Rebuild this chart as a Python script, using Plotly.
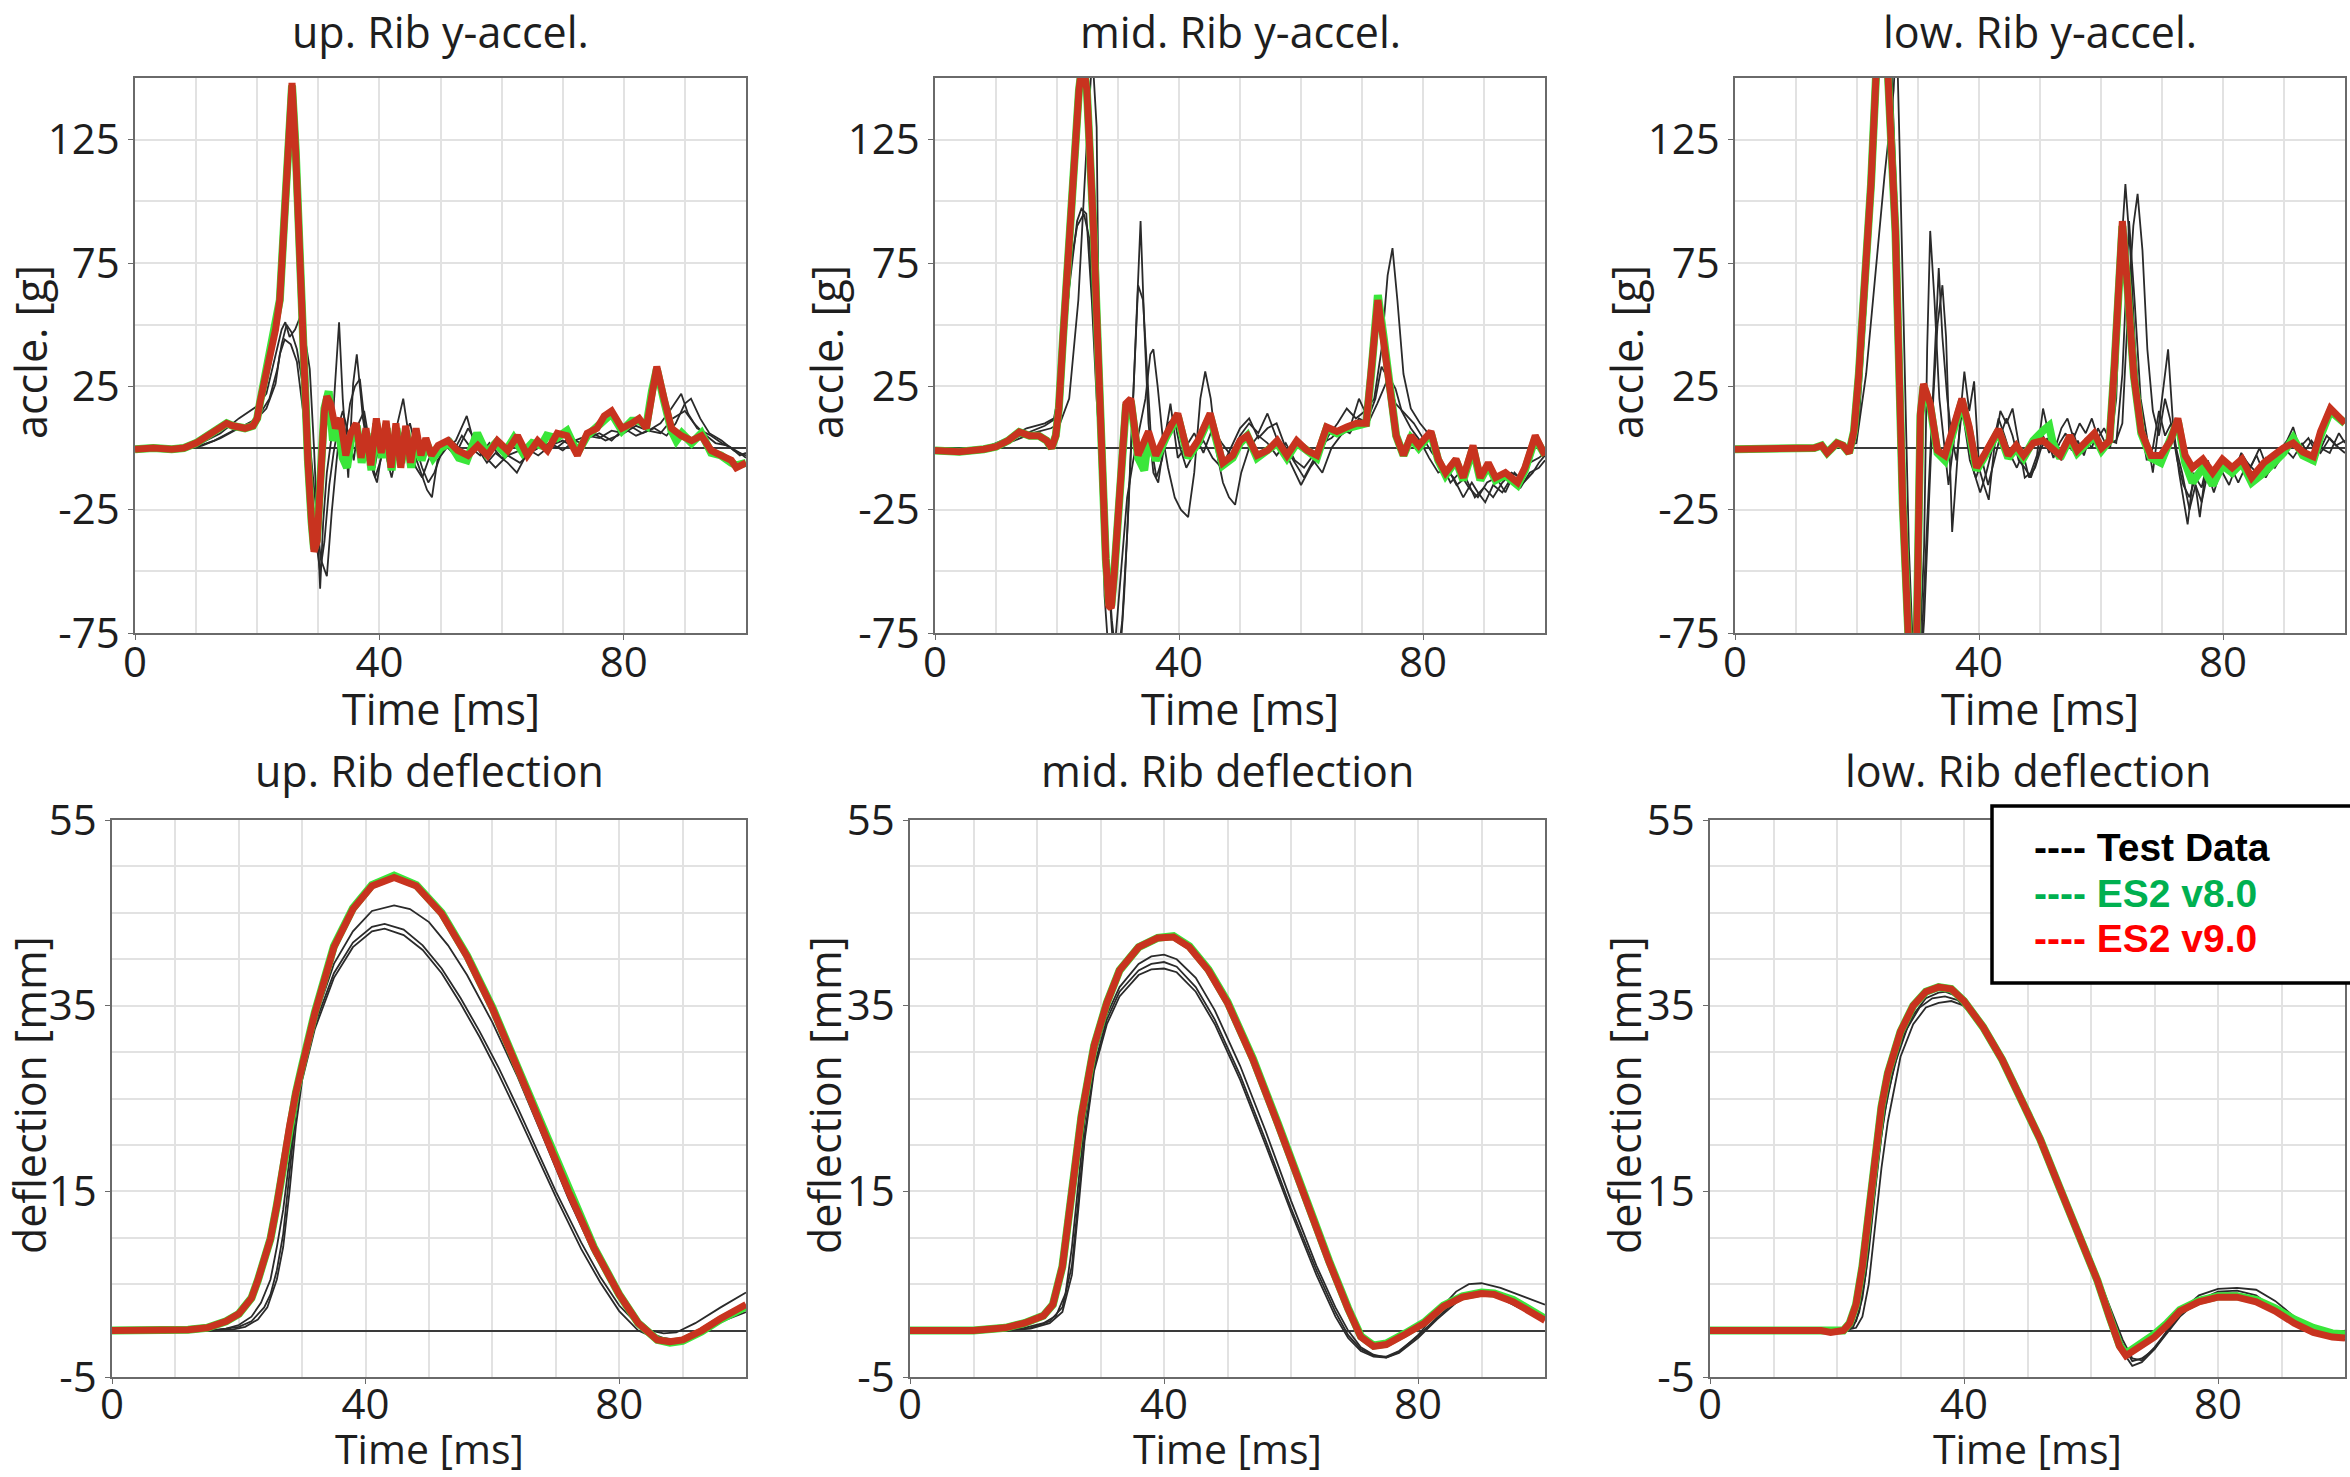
import plotly.graph_objects as go

# ---------------- data (time [ms], value) ----------------
TIME_TICKS = [0, 40, 80]

# ---- upper rib acceleration [g]
UP_V9 = [(0,-0.5),(3,0),(6,-0.5),(8,0),(10,2),(12,5),(14,8),(15,10),(16,9),(17.2,8),(18,8),(19.3,9),(20,12),(20.5,19),(22,37),(23,48),(23.7,60),(24.6,100),(25.2,135),(25.7,148),(26.3,120),(26.9,80),(27.6,35),(28.3,-5),(28.9,-30),(29.3,-42),(29.8,-38),(30.4,-10),(31,15),(31.4,21),(32,18),(32.8,8),(33.6,12),(34.5,-3),(35.3,6),(36.2,10),(37,-4),(37.8,8),(38.6,-7),(39.5,12),(40.3,-2),(41.1,11),(41.9,-8),(42.7,10),(43.5,-8),(44.3,9),(45.1,-6),(46,8),(46.8,-3),(47.6,4),(48.5,-3),(49.6,1),(51.2,3),(52.8,-1),(54.5,-3),(56.1,1),(57.7,-3),(59.3,3),(61,-1),(62.6,5),(64.2,-3),(65.9,3),(67.5,-1),(69.1,6),(70.7,5),(72.4,-3),(74,6),(75.6,8),(76.8,13),(78,15),(79.7,8),(81.3,10),(82.5,12),(83.7,8),(84.6,22),(85.4,33),(86.6,20),(87.8,8),(89.4,5),(91.1,3),(92.7,5),(94.3,-1),(95.9,-3),(97.6,-5),(98.4,-8),(100,-6)]
UP_V8 = [(0,-0.5),(3,0),(6,-0.5),(8,0),(10,2),(12,5),(14,8),(15,10),(16,9),(17.2,8),(18,8),(19.3,9),(20,12),(20.5,19),(22,37),(23,48),(23.7,60),(24.6,100),(25.2,136),(25.7,147),(26.3,121),(26.9,80),(27.6,35),(28.3,-5),(28.9,-30),(29.3,-41),(29.8,-37),(30.4,-10),(31,16),(31.7,23),(32.4,3),(33.2,10),(34,-4),(34.7,-8),(35.5,6),(36.3,9),(37.1,-6),(37.9,6),(38.7,-9),(39.5,10),(40.4,-4),(41.2,8),(42,-9),(42.8,8),(43.6,-6),(44.4,7),(45.2,-8),(46,5),(46.9,-5),(47.7,2),(48.8,-4),(50,0),(51.5,2),(53,-4),(54.3,-5),(56,6),(57.5,-2),(59,2),(60.5,-2),(62,4),(63.5,-2),(65,2),(66.5,1),(67.4,5),(69,4),(70.7,7),(72.4,-2),(74,5),(75.6,9),(76.8,12),(78,14),(79.7,7),(81.3,11),(82.5,11),(83.7,9),(84.6,23),(85.4,32),(86.6,19),(87.8,7),(88.6,3),(89.5,6),(91.1,2),(92.7,6),(94.3,-2),(95.9,-3),(97.6,-6),(98.4,-7),(100,-6)]
UP_T1 = [(0,0),(8,0),(10,1),(14,6),(17,12),(20,17),(21.5,22),(23,38),(24,48),(24.6,51),(25.3,45),(26.2,48),(27,53),(27.8,45),(28.6,32),(29.3,0),(30.3,-57),(30.8,-30),(31.4,-10),(32.2,5),(32.8,30),(33.4,51),(34,20),(34.9,-12),(35.7,26),(36.3,38),(37,20),(37.3,12),(38.2,-2),(39,-10),(39.6,-14),(40.5,0),(41.7,-5),(42.5,5),(43.9,20),(44.8,5),(45.8,-3),(46.8,-10),(47.8,-17),(48.6,-20),(49.5,-5),(51,0),(52.5,3),(54.3,13),(55.5,2),(57.6,-6),(59,-2),(61,-6),(62.5,-10),(64,-3),(66,0),(68,2),(70,-1),(72,3),(74,5),(76,4),(78,7),(80,6),(82,9),(84,7),(86,10),(87.5,15),(89.4,22),(90.5,14),(92,8),(94.3,5),(96,2),(97.6,0),(99,-3),(100,-2)]
UP_T2 = [(0,0),(8,0),(10,0.5),(13,3),(16,7),(19,10),(20.5,14),(22,20),(23.3,32),(24,42),(24.8,50),(25.6,47),(26.5,40),(27.5,25),(28.5,5),(29.5,-20),(30.4,-45),(31.4,-52),(32.2,-26),(33,-5),(33.6,10),(34.5,5),(35.2,18),(36,25),(36.8,28),(37.6,10),(38.4,-5),(39.2,-8),(40,2),(41,-2),(42,-12),(43,0),(44,8),(45,-2),(46,-8),(47,-12),(48,-5),(49,0),(50.5,2),(52,-2),(53.5,5),(55,0),(56.5,-3),(58,2),(60,-4),(62,-2),(64,0),(66,-3),(68,1),(70,3),(72,0),(74,4),(76,6),(78,3),(80,8),(82,5),(84,7),(86,6),(88,12),(90,15),(91.5,10),(93,6),(95,2),(97,1),(99,-2),(100,-4)]
UP_T3 = [(0,0),(9,0),(11,1),(14,4),(17,8),(20,12),(21.5,16),(23,26),(23.7,38),(24.5,44),(25.5,42),(26.5,35),(27.5,15),(28.5,-10),(29.5,-35),(30.3,-50),(31,-38),(31.8,-15),(32.5,-2),(33.2,8),(34,15),(35,5),(35.8,-5),(36.6,10),(37.5,15),(38.5,0),(39.3,-12),(40.2,-5),(41,5),(42,-8),(43,-3),(44,5),(45,10),(46,0),(47,-8),(48,-14),(49,-10),(50,-3),(51.5,4),(53,0),(54.5,8),(56,2),(57.5,-4),(59,-8),(61,-3),(63,-6),(65,-1),(67,2),(69,0),(71,4),(73,2),(75,6),(77,3),(79,5),(81,9),(83,6),(85,8),(87,5),(88.5,10),(90,18),(91,20),(92.5,12),(94,6),(96,3),(98,-1),(100,-3)]

# ---- middle rib acceleration [g]
MID_V9 = [(0,-1),(4,-1.5),(8,-0.5),(10,0.5),(12,3),(13.8,6.5),(15.5,5),(17,5),(18.3,3),(19.1,0),(19.8,5),(20.3,16),(21,45),(22,88),(23,125),(23.6,145),(24.2,158),(24.9,145),(26,88),(27.2,-4),(28,-45),(28.5,-64),(28.9,-65),(29.4,-50),(30.1,-23),(31.3,18),(32.1,20),(33.3,-3),(35,6.7),(36.2,-3),(37.8,5),(39.8,14),(41.5,-3),(43.1,3),(45.1,14),(47.2,-6),(48.8,-3),(50,3),(51.2,5),(52.8,-3),(54.5,-1),(56.1,3),(57.7,-3),(59.3,3),(61,-1),(62.6,-3),(64.2,8.5),(65.9,6.7),(67.5,8.5),(69.1,10),(70.7,10),(71.5,29),(72.6,60),(73.6,42),(74.8,18),(75.6,5),(76.8,-3),(78,5),(79.3,1),(81.3,6.7),(82.5,-4.5),(83.7,-10),(85.4,-4.5),(86.6,-12),(88.2,1),(89.4,-12),(90.7,-6),(91.9,-12),(93.5,-10),(95.5,-14),(96.7,-8),(98.4,5),(100,-3)]
MID_V8 = [(0,-1),(4,-1.5),(8,-0.5),(10,0.5),(12,3),(13.8,6.5),(15.5,5),(17,5),(18.3,3),(19.1,0),(19.8,5),(20.3,16),(21,45),(22,88),(23,125),(23.6,145),(24.2,157),(24.9,145),(26,88),(27.2,-4),(28,-45),(28.5,-63),(28.9,-64),(29.4,-50),(30.1,-23),(31.3,17),(32.1,19),(33.3,-4),(34.3,-9),(35,5),(36.2,-5),(37.8,4),(39.8,13),(41.5,-4),(43.1,2),(45.1,13),(47.2,-7),(48.8,-4),(50,2),(51.2,5),(52.8,-4),(54.5,-1),(56.1,2),(57.7,-4),(59.3,2),(61,-1),(62.6,-4),(64.2,8),(65.9,6),(67.5,8),(69.1,9),(70.7,10),(71.5,30),(72.6,62),(73.6,44),(74.8,19),(75.6,5),(76.8,-3),(78,4),(79.3,0),(81.3,6),(82.5,-5),(83.7,-11),(85.4,-5),(86.6,-13),(88.2,0),(89.4,-13),(90.7,-7),(91.9,-13),(93.5,-11),(95.5,-15),(96.7,-9),(98.4,4),(100,-3)]
MID_T1 = [(0,0),(8,0),(12,4),(15,8),(18,10),(19.5,12),(20.5,25),(22,65),(23.3,92),(24,97),(24.8,95),(25.7,60),(26.5,20),(27.5,-20),(28.5,-60),(29.3,-85),(30.2,-90),(31,-60),(31.8,-20),(32.5,20),(33.2,60),(33.7,92),(34.3,50),(35,10),(35.8,-10),(36.6,-14),(37.4,0),(38.6,18),(39.8,-4),(41,0),(42.5,6),(44,-2),(45.5,8),(47,2),(48.5,-3),(50,5),(51.5,10),(53,6),(54.5,14),(56,4),(57.5,-2),(59,-10),(60,-15),(61.5,-8),(63,-3),(64.5,5),(66,10),(67.5,16),(69,12),(70.5,15),(72,20),(73.2,40),(74.2,70),(75,81),(75.8,60),(76.8,30),(78,16),(79.5,10),(80.5,7),(82,0),(83.5,-8),(85,-12),(86.6,-20),(88,-14),(89,-18),(90.2,-22),(91.5,-15),(93,-18),(94.5,-12),(96,-16),(97.5,-10),(99,-8),(100,-5)]
MID_T2 = [(0,0),(8,0),(12,3),(15,6),(18,9),(19.8,12),(21,35),(22.3,75),(23.3,90),(24.4,95),(25.3,85),(26.2,45),(27,5),(28,-35),(29,-70),(29.8,-88),(30.7,-70),(31.5,-35),(32.3,10),(33.3,66),(34.1,60),(34.8,30),(35.5,0),(36.3,-12),(37.2,-5),(38.2,10),(39.2,12),(40.2,0),(41.2,-8),(42.5,-2),(44,3),(45.5,-4),(47,-8),(48.5,0),(50,8),(51.5,12),(53,4),(54.5,8),(56,10),(57.5,0),(59,-6),(60.5,-12),(62,-5),(63.5,-10),(65,0),(66.5,5),(68,8),(69.5,20),(71,12),(72.2,20),(73.2,33),(74.3,28),(75.5,18),(77,14),(78.5,10),(80,4),(81.5,-2),(83,-6),(84.5,-14),(86,-10),(87.5,-16),(89,-20),(90.5,-14),(92,-12),(93.5,-18),(95,-10),(96.5,-14),(98,-10),(99,-6),(100,-3)]
MID_T3 = [(0,0),(9,0),(13,3),(16,6),(19,8),(20.5,10),(22,20),(23.5,60),(24.8,120),(25.8,160),(26.5,130),(26.8,60),(27.2,0),(27.8,-60),(28.5,-85),(29.5,-80),(30.5,-50),(31.5,-20),(32.5,-5),(33.5,8),(34.5,20),(35.3,38),(35.8,40),(36.5,25),(37.3,5),(38.2,-8),(39.3,-20),(40.3,-25),(41.5,-28),(42.5,-10),(43.5,20),(44.3,31),(45.2,20),(46.2,-2),(47.2,-14),(48.2,-20),(49.2,-23),(50.2,-10),(51.5,0),(53,5),(54.5,2),(56,-3),(57.5,2),(59,-5),(60.5,-8),(62,-3),(63.5,2),(65,4),(66.5,8),(68,6),(69.5,12),(71,10),(72.5,18),(74.4,29),(75.5,24),(76.5,15),(78,8),(79.5,3),(81,-4),(82.5,-10),(84,-8),(85.5,-15),(87,-12),(88.5,-20),(90,-16),(91.5,-20),(93,-14),(94.5,-10),(96,-12),(97.5,-6),(99,-4),(100,-2)]

# ---- lower rib acceleration [g]
LOW_V9 = [(0,-0.5),(5,-0.5),(10,-0.5),(13,0),(14.2,1),(15.1,-2),(16.7,2),(17.7,1),(18.7,-2),(19.5,6.7),(20.3,30),(21.1,60),(22.3,107),(23.1,150),(24,168),(25.1,150),(26.3,88),(27.5,-23),(28.3,-75),(28.9,-105),(29.4,-100),(29.8,-75),(30.4,14),(30.9,26),(32,18),(33.2,-1),(34.4,-3),(36,10),(37.2,20),(38.4,8.5),(39.6,-8),(40.8,-3),(42,3),(43.2,7.6),(44.8,-3),(46.1,1),(47.3,-3),(48.9,2),(50.5,3),(52.1,-1),(53.3,-3),(54.9,5),(56.1,-1),(57.7,3),(58.9,6),(60.1,0),(61.4,3),(62.2,33),(63,70),(63.5,92),(64.2,70),(65.4,29),(66.6,6.7),(68.2,-3),(69.8,-3),(71.4,3),(72.6,12),(73.8,-3),(75,-8),(76.7,-4.5),(78.3,-10),(79.9,-4.5),(81.5,-8),(83.1,-4.5),(84.7,-12),(86.7,-6),(88.3,-3),(89.9,0),(91.5,2),(93.1,-1.6),(94.8,-3.5),(96,6.7),(97.6,16),(99.2,12.4),(100,10)]
LOW_V8 = [(0,-0.5),(5,-0.5),(10,-0.5),(13,0),(14.2,1),(15.1,-2),(16.7,2),(17.7,1),(18.7,-2),(19.5,6.7),(20.3,30),(21.1,60),(22.3,107),(23.1,150),(24,167),(25.1,150),(26.3,88),(27.5,-23),(28.3,-75),(28.9,-104),(29.4,-100),(29.8,-75),(30.4,13),(30.9,25),(32,17),(33.2,-2),(34.4,-5),(36,9),(37.2,19),(38.4,7),(39.6,-9),(40.8,-4),(42,2),(43.2,7),(44.8,-4),(46.1,0),(47.3,-4),(48.9,3),(50.5,7),(51.5,9),(52.1,2),(53.3,-4),(54.9,4),(56.1,-2),(57.7,2),(58.9,5),(60.1,-1),(61.4,3),(62.2,33),(63,70),(63.5,90),(64.2,70),(65.4,29),(66.6,6),(68.2,-4),(69.8,-6),(71.4,4),(72.6,11),(73.8,-6),(75,-14),(76.7,-8),(78.3,-15),(79.9,-7),(81.5,-10),(83.1,-6),(84.7,-14),(86.7,-10),(88.3,-6),(89.9,-2),(91.5,4),(93.1,-3),(94.8,-5),(96,5),(97.6,15),(99.2,12),(100,10)]
LOW_T1 = [(0,0),(10,0),(15,0),(18,0.5),(19.9,2),(21.5,30),(23,70),(24.5,110),(26,145),(26.5,170),(27,120),(27.8,30),(28.5,-40),(29.3,-90),(30.2,-100),(31,-70),(31.8,-20),(32.5,20),(33.2,50),(34,66),(34.6,45),(35.1,0),(35.6,-34),(36.3,-10),(37,15),(37.6,31),(38.4,15),(39.2,27),(40,-8),(40.8,-15),(41.6,-21),(42.5,0),(43.5,15),(44.5,10),(45.5,16),(46.5,2),(47.5,-12),(48.5,-10),(49.5,-3),(50.5,16),(51.5,5),(52.5,0),(53.5,8),(54.5,12),(55.5,4),(56.5,10),(57.5,6),(58.5,12),(59.5,4),(60.5,8),(61.5,3),(62.5,2),(63.5,30),(64.6,92),(65.5,60),(66.5,20),(67.5,5),(68.5,-10),(69.5,10),(70.2,25),(71,40),(71.8,10),(72.8,-10),(74.2,-31),(75.2,-10),(76.2,-28),(77.2,-8),(78.5,-15),(80,-5),(81.5,-12),(83,-2),(84.5,-8),(86,0),(87.5,-10),(89,-2),(90.5,3),(91.5,8.5),(92.5,0),(94,4),(95.5,-3),(97,5),(98.5,1),(100,3)]
LOW_T2 = [(0,0),(12,0),(16,0),(18.5,0.5),(19.8,5),(21,55),(22.3,100),(23.3,150),(24,170),(25.5,160),(26.5,90),(27.3,0),(28,-70),(29,-110),(30,-100),(31,-40),(31.5,40),(32,88),(32.7,60),(33.5,20),(34.3,0),(35,-15),(36,5),(36.8,20),(37.6,10),(38.5,-5),(39.5,-12),(40.5,-5),(41.5,-15),(42.5,-5),(43.5,5),(44.5,12),(45.5,5),(46.5,-5),(47.5,-8),(48.5,-12),(49.5,-5),(50.5,5),(51.5,-2),(52.5,3),(53.5,-5),(54.5,0),(55.5,6),(56.5,-2),(57.5,4),(58.5,0),(59.5,8),(60.5,3),(61.5,0),(62.5,20),(63.3,80),(64,107),(64.8,80),(65.6,40),(66.5,10),(67.5,-5),(68.5,0),(69.5,15),(70.5,5),(71.5,10),(72.5,-5),(73.5,-15),(74.5,-20),(75.5,-12),(76.5,-16),(77.5,-5),(78.5,-12),(79.5,-8),(81,-15),(82.5,-5),(84,-10),(85.5,-3),(87,-12),(88.5,-5),(90,0),(91.5,-4),(93,2),(94.5,-6),(96,0),(97.5,-2),(99,6),(100,2)]
LOW_T3 = [(0,0),(12,0),(16,0),(19,1),(20.3,10),(21.5,60),(22.5,105),(23.5,150),(24.5,165),(25.7,150),(26.8,80),(27.6,-10),(28.4,-80),(29.4,-115),(30.4,-90),(31.2,-45),(32,0),(32.7,40),(33.4,73),(34,45),(34.8,20),(35.5,5),(36.3,-5),(37.2,15),(38.2,5),(39.2,-10),(40.2,-18),(41.2,-10),(42.2,0),(43.2,12),(44.2,5),(45.2,-3),(46.2,-8),(47.2,-2),(48.2,-12),(49.2,-8),(50.2,0),(51.2,4),(52.2,-4),(53.2,2),(54.2,6),(55.2,-1),(56.2,3),(57.2,-3),(58.2,5),(59.2,2),(60.2,-1),(61.2,2),(62.5,3),(63.5,10),(64.5,60),(65.3,90),(66,103),(66.8,80),(67.6,40),(68.5,15),(69.5,5),(70.5,20),(71.3,12),(72.3,0),(73.3,-10),(74.5,-25),(75.5,-15),(76.5,-22),(77.5,-10),(78.5,-18),(79.5,-10),(81,-6),(82.5,-14),(84,-6),(85.5,-10),(87,-4),(88.5,-8),(90,-2),(91.5,2),(93,-3),(94.5,3),(96,-2),(97.5,4),(99,0),(100,-2)]

# ---- upper rib deflection [mm]
UP_DEF_V9 = [(0,0),(5,0),(10,0),(12,0.1),(15,0.3),(18,1),(20,1.8),(22,3.5),(23,5.4),(24,7.5),(25,9.9),(26,13.5),(27,18),(28,22),(29,25.6),(30,28.5),(32,34.2),(35,41.3),(38,45.4),(41,47.9),(44.5,48.8),(48,47.9),(52,44.9),(56,40.3),(60,34.7),(64,28.2),(68,21.6),(72,15),(76,8.9),(80,3.9),(83,0.8),(86,-1),(88,-1.2),(90,-1),(93,0),(96,1.3),(100,2.8)]
UP_DEF_V8 = [(0,0),(5,0),(10,0),(12,0.1),(15,0.3),(18,1),(20,1.8),(22,3.5),(23,5.4),(24,7.5),(25,9.9),(26,13.5),(27,18),(28,22),(29,25.6),(30,28.6),(32,34.3),(35,41.4),(38,45.5),(41,48),(44.5,49),(48,48),(52,45),(56,40.4),(60,34.8),(64,28.3),(68,21.7),(72,15.1),(76,9),(80,3.9),(83,0.8),(86,-1),(88,-1.3),(90,-1.1),(93,-0.1),(96,1.2),(100,2.6)]
UP_DEF_T1 = [(0,0),(14,0),(17,0.1),(20,0.4),(22,1),(24,2.5),(25,3.9),(26,6.5),(27,10.4),(28,17),(29,23.5),(30,27.5),(32,33.5),(35,39.5),(38,43),(41,45.2),(44.5,45.8),(47,45.4),(50,44),(53,41.5),(56,38.3),(60,33.2),(64,27.3),(68,20.8),(72,14.2),(76,8.3),(80,3.6),(83,1.2),(85,0),(87,-0.3),(89,-0.2),(92,0.8),(96,2.5),(100,4.1)]
UP_DEF_T2 = [(0,0),(15,0),(18,0.2),(20,0.6),(22,1.5),(23.5,3),(25,5.5),(26,9),(27,13),(28,18.5),(29,24),(30,27.8),(32,33),(35,38.5),(38,41.8),(41,43.5),(43,43.8),(46,43.2),(49,41.5),(52,39),(55,35.8),(58,32.2),(61,28.3),(64,24),(67,19.5),(70,15),(74,9.5),(77,5.8),(80,2.7),(83,0.6),(85,-0.3),(87,-0.8),(89,-1),(91,-0.6),(94,0.6),(97,1.6),(100,2.4)]
UP_DEF_T3 = [(0,0),(16,0),(19,0.1),(21,0.4),(23,1.2),(24.5,2.5),(26,5.5),(27,9),(28,15),(29,22),(30,27),(32,32.5),(35,38),(38,41.3),(41,43),(43,43.3),(46,42.6),(49,41),(52,38.5),(55,35.2),(58,31.6),(61,27.6),(64,23.3),(67,18.8),(70,14.4),(74,8.8),(77,5.2),(80,2.1),(83,0),(85,-0.6),(87,-1),(89,-1.2),(91,-0.9),(94,0.2),(97,1.2),(100,2)]

# ---- middle rib deflection [mm]
MID_DEF_V9 = [(0,0),(10,0),(15,0.3),(18,0.8),(21,1.6),(22.5,2.8),(24,6.9),(25.5,15.5),(27,23.1),(29,30.7),(31,35.3),(33,38.8),(36,41.3),(39,42.3),(41.5,42.4),(44,41.3),(47,38.8),(50,35.3),(54,29.2),(58,22.1),(62,14.5),(66,7.4),(69,2.3),(71,-0.7),(73,-1.7),(75,-1.5),(78,-0.4),(81,0.8),(84,2.6),(87,3.6),(90,4.0),(92,3.9),(95,3.1),(98,1.8),(100,1.1)]
MID_DEF_V8 = [(0,0),(10,0),(15,0.3),(18,0.8),(21,1.6),(22.5,2.8),(24,6.9),(25.5,15.5),(27,23.1),(29,30.7),(31,35.3),(33,38.8),(36,41.3),(39,42.3),(41.5,42.5),(44,41.4),(47,38.9),(50,35.4),(54,29.3),(58,22.2),(62,14.6),(66,7.5),(69,2.4),(71,-0.6),(73,-1.6),(75,-1.4),(78,-0.3),(81,0.9),(84,2.7),(87,3.7),(90,4.1),(92,4.0),(95,3.3),(98,2.0),(100,1.3)]
MID_DEF_T1 = [(0,0),(14,0),(18,0.3),(21,0.8),(23,1.6),(24.5,4),(25.5,9),(26.5,16),(27.5,22.5),(29,29.5),(31,34),(33,37),(36,39.5),(38,40.3),(40,40.5),(42,40),(45,38),(48,34.5),(52,28.5),(56,21.5),(60,14),(64,7),(67,2.5),(69,0),(71,-1.8),(73,-2.6),(75,-2.9),(77,-2.3),(80,-0.5),(83,2),(86,4.2),(88,5),(90,5.1),(93,4.6),(96,3.8),(100,2.8)]
MID_DEF_T2 = [(0,0),(15,0),(19,0.3),(22,1),(24,2.5),(25.5,7),(26.5,14),(27.5,21),(29,28.5),(31,33.5),(33,36.5),(36,38.8),(38,39.5),(40,39.7),(42,39.2),(45,37),(48,33.5),(52,27.5),(56,20.5),(60,13.2),(64,6.5),(67,2),(69,-0.5),(71,-2),(73,-2.7),(75,-2.8),(77,-2.2),(80,-0.6),(83,1.4),(86,3.2),(88,4),(90,4.1),(93,3.6),(96,2.6),(100,1.5)]
MID_DEF_T3 = [(0,0),(15,0),(19,0.2),(22,0.8),(24,2),(25.5,6),(26.5,13),(27.5,20.5),(29,28),(31,33),(33,36),(36,38.3),(38,38.9),(40,39),(42,38.6),(45,36.5),(48,33),(52,27),(56,20),(60,12.8),(64,6),(67,1.5),(69,-0.8),(71,-2.2),(73,-2.8),(75,-2.9),(77,-2.4),(80,-0.8),(83,1.2),(86,3),(88,3.9),(90,4),(93,3.5),(96,2.4),(100,1.3)]

# ---- lower rib deflection [mm]
LOW_DEF_V9 = [(0,0),(10,0),(17.5,0),(19,-0.2),(21,0),(22,0.8),(23,2.8),(24,6.9),(25,13),(26,19.1),(27,24.1),(28,27.7),(30,32.2),(32,35),(34,36.5),(36,37),(38,36.8),(40,35.5),(43,32.7),(46,29.2),(49,25.1),(52,20.6),(55,15.5),(58,10.4),(61,5.4),(63,1.3),(64.5,-1.7),(65.5,-2.7),(67,-2),(70,-0.7),(72,0.6),(74,2.1),(77,3.1),(80,3.6),(83,3.6),(86,3.1),(89,2.1),(92,0.8),(95,-0.2),(98,-0.7),(100,-0.8)]
LOW_DEF_V8 = [(0,0),(10,0),(17.5,0),(19,-0.2),(21,0),(22,0.8),(23,2.8),(24,6.9),(25,13),(26,19.1),(27,24.1),(28,27.7),(30,32.2),(32,35),(34,36.5),(36,37),(38,36.8),(40,35.5),(43,32.7),(46,29.2),(49,25.1),(52,20.6),(55,15.5),(58,10.4),(61,5.4),(63,1.3),(64.5,-1.6),(65.5,-2.5),(67,-1.8),(70,-0.4),(72,0.8),(74,2.2),(77,3.2),(80,3.7),(83,3.7),(86,3.3),(89,2.4),(92,1.2),(95,0.3),(98,-0.3),(100,-0.4)]
LOW_DEF_T1 = [(0,0),(20,0),(22,0.2),(23,1),(24,3.5),(25,8.5),(26,15),(27,21),(28,25.5),(30,31),(32,34),(34,35.8),(36,36.4),(37,36.5),(39,36),(41,34.3),(44,31.3),(47,27.8),(50,23.5),(53,19),(56,14),(59,9),(62,3.7),(64,0),(65.5,-2.8),(66.5,-3.8),(68,-3.4),(70,-2),(72,0),(74,2),(77,3.8),(80,4.5),(83,4.6),(86,4.4),(89,3.2),(92,1.5),(95,0.4),(98,-0.2),(100,-0.5)]
LOW_DEF_T2 = [(0,0),(21,0),(23,0.3),(24,1.5),(25,5),(26,11),(27,17.5),(28,22.5),(30,29.5),(32,33),(34,34.8),(36,35.3),(38,35.5),(40,35),(42,33.5),(45,30.3),(48,26.8),(51,22.5),(54,17.5),(57,12.5),(60,7.5),(63,2),(65,-1.5),(66.5,-3.3),(68,-3),(70,-2),(72,-0.3),(74,1.5),(77,3.3),(80,4.2),(83,4.3),(86,3.8),(89,2.3),(92,0.8),(95,0),(98,-0.4),(100,0)]
LOW_DEF_T3 = [(0,0),(20.5,0),(22.5,0.3),(23.5,2),(24.5,6),(25.5,12),(26.5,18.5),(27.5,23.5),(29,28.5),(31,32.5),(33,34.8),(35,35.8),(37,36),(39,35.6),(42,33.5),(45,30.5),(48,27),(51,22.5),(54,17.8),(57,12.8),(60,7.8),(63,2.5),(65,-1),(66.5,-3),(68,-3.2),(70,-1.8),(72,0),(74,1.7),(77,3.4),(80,4),(83,4),(86,3.5),(89,2.2),(92,0.8),(95,-0.2),(98,-0.8),(100,-1)]

TITLES = ["up. Rib y-accel.", "mid. Rib y-accel.", "low. Rib y-accel.",
          "up. Rib deflection", "mid. Rib deflection", "low. Rib deflection"]
ACC_TICKS = [-75, -25, 25, 75, 125]
DEF_TICKS = [-5, 15, 35, 55]
LEGEND_LABELS = ["---- Test Data", "---- ES2 v8.0", "---- ES2 v9.0"]

# ---------------- layout ----------------
W, H = 2350, 1477
FONT = "Open Sans"
TXT = "#1e1e1e"
TICK_SIZE = 42
LABEL_SIZE = 43

def fx(p):
    return p / W

def fy(p):
    return 1 - p / H

panels = [
    dict(box=(135, 746, 78, 633), acc=True, ylab="accle. [g]", ylx=30,
         tests=[UP_T1, UP_T2, UP_T3], v8=UP_V8, v9=UP_V9),
    dict(box=(935, 1545, 78, 633), acc=True, ylab="accle. [g]", ylx=826,
         tests=[MID_T1, MID_T2, MID_T3], v8=MID_V8, v9=MID_V9),
    dict(box=(1735, 2345, 78, 633), acc=True, ylab="accle. [g]", ylx=1626,
         tests=[LOW_T1, LOW_T2, LOW_T3], v8=LOW_V8, v9=LOW_V9),
    dict(box=(112, 746, 820, 1377), acc=False, ylab="deflection [mm]", ylx=29,
         tests=[UP_DEF_T1, UP_DEF_T2, UP_DEF_T3], v8=UP_DEF_V8, v9=UP_DEF_V9),
    dict(box=(910, 1545, 820, 1377), acc=False, ylab="deflection [mm]", ylx=824,
         tests=[MID_DEF_T1, MID_DEF_T2, MID_DEF_T3], v8=MID_DEF_V8, v9=MID_DEF_V9),
    dict(box=(1710, 2345, 820, 1377), acc=False, ylab="deflection [mm]", ylx=1624,
         tests=[LOW_DEF_T1, LOW_DEF_T2, LOW_DEF_T3], v8=LOW_DEF_V8, v9=LOW_DEF_V9),
]

fig = go.Figure()
annotations = []
layout = dict(
    width=W, height=H, margin=dict(l=0, r=0, t=0, b=0, pad=0, autoexpand=False),
    paper_bgcolor="white", plot_bgcolor="white", showlegend=False,
    font=dict(family=FONT, size=TICK_SIZE, color=TXT),
)

GRID = "#e2e2e2"
AXL = "#6a6a6a"

for i, p in enumerate(panels):
    n = i + 1
    xa = "xaxis" if n == 1 else f"xaxis{n}"
    ya = "yaxis" if n == 1 else f"yaxis{n}"
    xr = "x" if n == 1 else f"x{n}"
    yr = "y" if n == 1 else f"y{n}"
    x0, x1, y0, y1 = p["box"]
    if p["acc"]:
        yrange, yticks, ydt = [-75, 150], ACC_TICKS, 25
    else:
        yrange, yticks, ydt = [-5, 55], DEF_TICKS, 5
    layout[xa] = dict(
        domain=[fx(x0), fx(x1)], anchor=yr, range=[0, 100], automargin=False,
        tickmode="array", tickvals=TIME_TICKS, ticktext=[str(v) for v in TIME_TICKS],
        showgrid=True, gridcolor=GRID, gridwidth=1.5,
        minor=dict(tickmode="linear", tick0=0, dtick=10, showgrid=True,
                   gridcolor=GRID, gridwidth=1.5, ticks=""),
        showline=True, linecolor=AXL, linewidth=1.8, mirror=True,
        ticks="outside", ticklen=5, tickcolor=AXL, zeroline=False,
        ticklabelstandoff=-13 if p["acc"] else -15,
        tickfont=dict(family=FONT, size=TICK_SIZE, color=TXT),
    )
    layout[ya] = dict(
        domain=[fy(y1), fy(y0)], anchor=xr, range=yrange, automargin=False,
        tickmode="array", tickvals=yticks, ticktext=[str(v) for v in yticks],
        showgrid=True, gridcolor=GRID, gridwidth=1.5,
        minor=dict(tickmode="linear", tick0=yrange[0], dtick=ydt, showgrid=True,
                   gridcolor=GRID, gridwidth=1.5, ticks=""),
        showline=True, linecolor=AXL, linewidth=1.8, mirror=True,
        ticks="outside", ticklen=5, tickcolor=AXL,
        zeroline=True, zerolinecolor="#3a3a3a", zerolinewidth=1.6,
        tickfont=dict(family=FONT, size=TICK_SIZE, color=TXT),
    )
    for s in p["tests"]:
        fig.add_trace(go.Scatter(x=[q[0] for q in s], y=[q[1] for q in s], mode="lines",
                                 line=dict(color="#2a2a2a", width=1.8),
                                 xaxis=xr, yaxis=yr, hoverinfo="skip"))
    s = p["v8"]
    fig.add_trace(go.Scatter(x=[q[0] for q in s], y=[q[1] for q in s], mode="lines",
                             line=dict(color="#3ae63a", width=8),
                             xaxis=xr, yaxis=yr, hoverinfo="skip"))
    s = p["v9"]
    fig.add_trace(go.Scatter(x=[q[0] for q in s], y=[q[1] for q in s], mode="lines",
                             line=dict(color="#c8331f", width=7),
                             xaxis=xr, yaxis=yr, hoverinfo="skip"))
    cx = (x0 + x1) / 2
    ttl_y = 31 if p["acc"] else 770
    annotations.append(dict(text=TITLES[i], x=fx(cx), y=fy(ttl_y), xref="paper", yref="paper",
                            xanchor="center", yanchor="middle", showarrow=False,
                            font=dict(family=FONT, size=LABEL_SIZE, color=TXT)))
    xt_y = 708 if p["acc"] else 1448
    xt_size = LABEL_SIZE if p["acc"] else 41
    annotations.append(dict(text="Time [ms]", x=fx(cx), y=fy(xt_y), xref="paper", yref="paper",
                            xanchor="center", yanchor="middle", showarrow=False,
                            font=dict(family=FONT, size=xt_size, color=TXT)))
    yt_y = 352 if p["acc"] else 1095
    annotations.append(dict(text=p["ylab"], x=fx(p["ylx"]), y=fy(yt_y), xref="paper", yref="paper",
                            xanchor="center", yanchor="middle", showarrow=False, textangle=-90,
                            font=dict(family=FONT, size=LABEL_SIZE, color=TXT)))

shapes = [dict(type="rect", xref="paper", yref="paper",
               x0=fx(1992), x1=fx(2362), y0=fy(983), y1=fy(806),
               line=dict(color="black", width=3.5), fillcolor="white", layer="above")]
leg_colors = ["#000000", "#00b050", "#ff0000"]
leg_y = [848, 893, 938]
for lab, col, yy in zip(LEGEND_LABELS, leg_colors, leg_y):
    annotations.append(dict(text=f"<b>{lab}</b>", x=fx(2032), y=fy(yy), xref="paper", yref="paper",
                            xanchor="left", yanchor="middle", showarrow=False,
                            font=dict(family="Liberation Sans", size=39, color=col)))

layout["annotations"] = annotations
layout["shapes"] = shapes
fig.update_layout(**layout)
fig.write_html("out.html", post_script="document.body.style.margin='0';")
